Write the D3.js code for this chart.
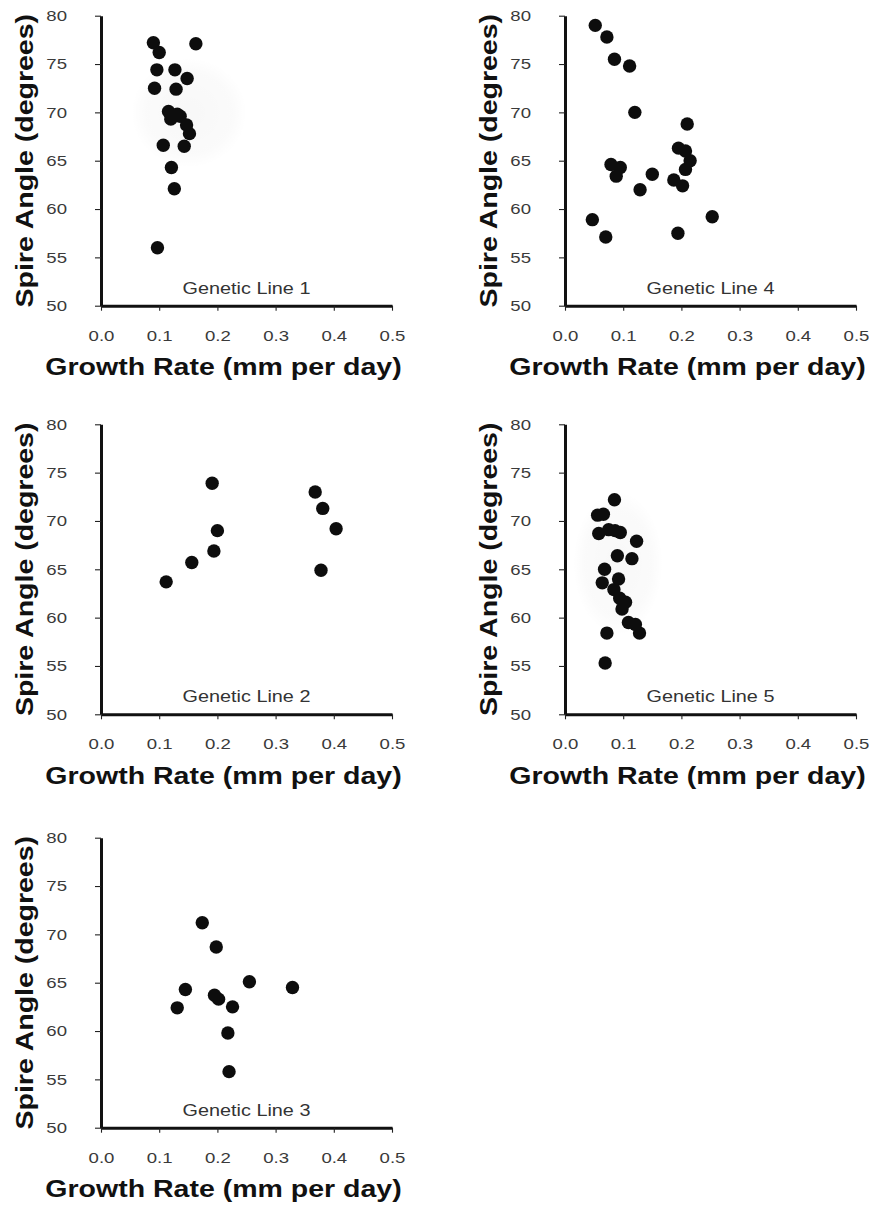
<!DOCTYPE html>
<html>
<head>
<meta charset="utf-8">
<script src="https://cdn.jsdelivr.net/npm/d3@7"></script>
<style>
  html, body { margin: 0; padding: 0; background: #fff; }
  svg { display: block; }
</style>
</head>
<body>
<svg id="chart" width="869" height="1211"></svg>
<script>
// ---------------- DATA ----------------
const xTickValues = [0, 0.1, 0.2, 0.3, 0.4, 0.5];
const yTickValues = [50, 55, 60, 65, 70, 75, 80];
const xTitle = "Growth Rate (mm per day)";
const yTitle = "Spire Angle (degrees)";
const panelLabels = ["Genetic Line 1", "Genetic Line 4", "Genetic Line 2", "Genetic Line 5", "Genetic Line 3"];

const line1Rate  = [0.090, 0.100, 0.163, 0.096, 0.127, 0.148, 0.092, 0.129, 0.116, 0.120, 0.131, 0.136, 0.147, 0.152, 0.107, 0.143, 0.121, 0.126, 0.097];
const line1Angle = [77.2, 76.2, 77.1, 74.4, 74.4, 73.5, 72.5, 72.4, 70.1, 69.3, 69.8, 69.6, 68.7, 67.8, 66.6, 66.5, 64.3, 62.1, 56.0];

const line4Rate  = [0.052, 0.072, 0.085, 0.111, 0.120, 0.210, 0.195, 0.207, 0.215, 0.207, 0.079, 0.095, 0.088, 0.150, 0.129, 0.187, 0.202, 0.047, 0.070, 0.194, 0.253];
const line4Angle = [79.0, 77.8, 75.5, 74.8, 70.0, 68.8, 66.3, 66.0, 65.0, 64.1, 64.6, 64.3, 63.4, 63.6, 62.0, 63.0, 62.4, 58.9, 57.1, 57.5, 59.2];

const line2Rate  = [0.191, 0.368, 0.381, 0.404, 0.200, 0.194, 0.156, 0.112, 0.378];
const line2Angle = [73.9, 73.0, 71.3, 69.2, 69.0, 66.9, 65.7, 63.7, 64.9];

const line5Rate  = [0.085, 0.056, 0.066, 0.058, 0.075, 0.086, 0.095, 0.123, 0.090, 0.115, 0.068, 0.064, 0.092, 0.084, 0.094, 0.104, 0.098, 0.109, 0.121, 0.128, 0.072, 0.069];
const line5Angle = [72.2, 70.6, 70.7, 68.7, 69.1, 69.0, 68.8, 67.9, 66.4, 66.1, 65.0, 63.6, 64.0, 62.9, 62.0, 61.6, 60.9, 59.5, 59.3, 58.4, 58.4, 55.3];

const line3Rate  = [0.174, 0.198, 0.255, 0.329, 0.145, 0.131, 0.195, 0.202, 0.226, 0.218, 0.220];
const line3Angle = [71.2, 68.7, 65.1, 64.5, 64.3, 62.4, 63.7, 63.3, 62.5, 59.8, 55.8];

const panelRates  = [line1Rate, line4Rate, line2Rate, line5Rate, line3Rate];
const panelAngles = [line1Angle, line4Angle, line2Angle, line5Angle, line3Angle];

// ---------------- LAYOUT ----------------
const colX = [101, 565];
const rowY = [15.7, 424.3, 837.7];
const panelPos = [[0,0],[1,0],[0,1],[1,1],[0,2]];
const W = 291, H = 290;
const SX = 1.24; // horizontal stretch of the original typography
const haze = [ {cx: 88, cy: 97, rx: 58, ry: 55}, null, null, {cx: 53, cy: 139, rx: 45, ry: 72}, null ];

const svg = d3.select("#chart");
const defs = svg.append("defs");
const rg = defs.append("radialGradient").attr("id", "haze");
rg.append("stop").attr("offset", "0%").attr("stop-color", "#000").attr("stop-opacity", 0.03);
rg.append("stop").attr("offset", "75%").attr("stop-color", "#000").attr("stop-opacity", 0.018);
rg.append("stop").attr("offset", "100%").attr("stop-color", "#000").attr("stop-opacity", 0);
defs.append("filter").attr("id", "soft")
  .append("feGaussianBlur").attr("stdDeviation", 0.45);

panelLabels.forEach((label, i) => {
  const [c, r] = panelPos[i];
  const g = svg.append("g").attr("transform", `translate(${colX[c]},${rowY[r]})`);
  const x = d3.scaleLinear().domain([0, 0.5]).range([0, W]);
  const y = d3.scaleLinear().domain([50, 80]).range([H, 0]);

  if (haze[i]) {
    g.append("ellipse").attr("cx", haze[i].cx).attr("cy", haze[i].cy)
      .attr("rx", haze[i].rx).attr("ry", haze[i].ry).attr("fill", "url(#haze)");
  }

  // Y axis
  const ya = g.append("g").call(
    d3.axisLeft(y).tickValues(yTickValues).tickSize(6).tickSizeOuter(0).tickFormat(d3.format("d"))
  );
  ya.select(".domain").attr("stroke", "#111").attr("stroke-width", 3);
  ya.selectAll(".tick line").attr("stroke", "#222").attr("stroke-width", 1.1);
  ya.selectAll(".tick text")
    .attr("x", 0)
    .attr("transform", `translate(-34,0) scale(${SX},1)`)
    .attr("font-family", "'Liberation Sans', Arial, sans-serif")
    .attr("font-size", 15).attr("fill", "#3a3a3a");

  // X axis
  const xa = g.append("g").attr("transform", `translate(0,${H})`).call(
    d3.axisBottom(x).tickValues(xTickValues).tickSize(5).tickSizeOuter(0).tickFormat(d3.format(".1f"))
  );
  xa.select(".domain").attr("stroke", "#111").attr("stroke-width", 3);
  xa.selectAll(".tick line").attr("stroke", "#222").attr("stroke-width", 1.1);
  xa.selectAll(".tick text")
    .attr("x", 0).attr("y", 35).attr("dy", 0)
    .attr("transform", `scale(${SX},1)`)
    .attr("font-family", "'Liberation Sans', Arial, sans-serif")
    .attr("font-size", 15).attr("fill", "#3a3a3a");

  // Points
  const pts = d3.zip(panelRates[i], panelAngles[i]);
  g.append("g").attr("filter", "url(#soft)")
    .selectAll("circle").data(pts).join("circle")
    .attr("cx", d => x(d[0])).attr("cy", d => y(d[1]))
    .attr("r", 6.7).attr("fill", "#111");

  // Panel label
  g.append("text")
    .attr("transform", `translate(${W/2},${H - 12}) scale(${SX},1)`)
    .attr("text-anchor", "middle")
    .attr("font-family", "'Liberation Sans', Arial, sans-serif")
    .attr("font-size", 16).attr("fill", "#333")
    .text(label);

  // Axis titles
  g.append("text")
    .attr("transform", `translate(122.5,${H + 69.3}) scale(${SX},1)`)
    .attr("text-anchor", "middle")
    .attr("font-family", "'Liberation Sans', Arial, sans-serif")
    .attr("font-weight", "bold").attr("font-size", 23).attr("fill", "#111")
    .text(xTitle);

  g.append("text")
    .attr("transform", `translate(-67.8,${H/2}) rotate(-90) scale(${SX},1)`)
    .attr("text-anchor", "middle")
    .attr("font-family", "'Liberation Sans', Arial, sans-serif")
    .attr("font-weight", "bold").attr("font-size", 23).attr("fill", "#111")
    .text(yTitle);
});
</script>
</body>
</html>
